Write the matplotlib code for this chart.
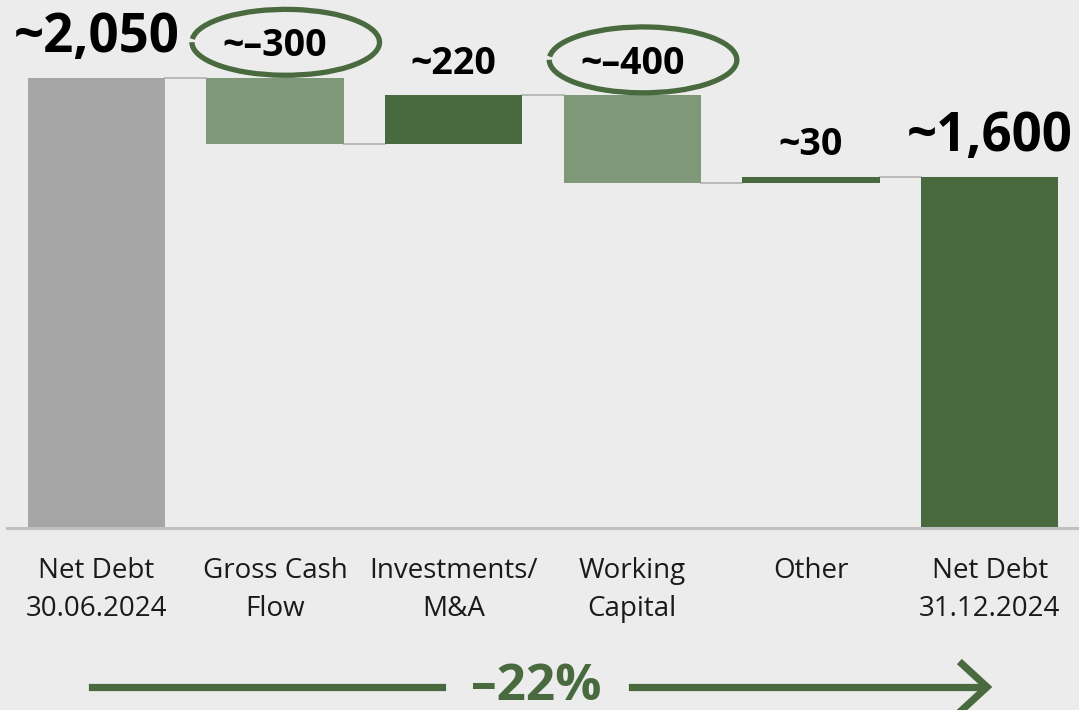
import matplotlib.pyplot as plt
from matplotlib.patches import Arc
from matplotlib.lines import Line2D

plt.rcParams['font.family'] = ['Open Sans', 'DejaVu Sans']

categories = ['Net Debt\n30.06.2024', 'Gross Cash\nFlow', 'Investments/\nM&A',
              'Working\nCapital', 'Other', 'Net Debt\n31.12.2024']
values = [2050, -300, 220, -400, 30, 1600]
is_total = [True, False, False, False, False, True]
value_labels = ['~2,050', '~–300', '~220', '~–400', '~30', '~1,600']
circled = [False, True, False, True, False, False]
change_label = '–22%'

bg = '#ececec'
gray = '#a6a6a6'
light_green = '#7f9877'
dark_green = '#486a3e'

fig = plt.figure(figsize=(10.79, 7.10), dpi=100, facecolor=bg)
ax = fig.add_axes([7 / 1079, 182 / 710, 1072 / 1079, 527 / 710])
ax.set_facecolor(bg)

width = 0.767
running = 0
tops = []
levels = []
for i, v in enumerate(values):
    if is_total[i]:
        bottom, height = 0, v
        color = gray if i == 0 else dark_green
        running = v
    else:
        if v < 0:
            bottom, height = running + v, -v
            color = light_green
        else:
            bottom, height = running, v
            color = dark_green
        running += v
    ax.bar(i, height, bottom=bottom, width=width, color=color, zorder=2)
    tops.append(bottom + height)
    levels.append(running)

# connectors
for i in range(len(values) - 1):
    ax.plot([i + width / 2, i + 1 - width / 2], [levels[i], levels[i]],
            color='#b5b5b5', lw=1.3, zorder=1)

# value labels
for i, lab in enumerate(value_labels):
    big = is_total[i]
    off = 18.5 if big else 15.5
    ax.annotate(lab, (i, tops[i]), xytext=(0, off), textcoords='offset points',
                ha='center', va='baseline', fontsize=38 if big else 27,
                fontweight='bold', color='black', zorder=4)
    if circled[i]:
        # hand-drawn style loop around the label
        y0 = tops[i] + (off * 100 / 72 + 14) / 0.2195
        arc = Arc((i + 0.06, y0), 1.05, 300, angle=0, theta1=132, theta2=452,
                  color=dark_green, lw=3.8, zorder=3, clip_on=False)
        ax.add_patch(arc)

ax.set_xlim(-0.5, 5.5)
ax.set_ylim(0, 2400)
ax.set_xticks(range(len(categories)))
ax.set_xticklabels(categories, fontsize=20, color='#1a1a1a', linespacing=1.45)
ax.tick_params(axis='x', length=0, pad=21)
ax.set_yticks([])
for s in ['top', 'left', 'right']:
    ax.spines[s].set_visible(False)
ax.spines['bottom'].set_color('#c0c0c0')
ax.spines['bottom'].set_linewidth(2.2)

# bottom arrow with change label
def px(x, y):
    return x / 1079, 1 - y / 710

tf = fig.transFigure
(x1, y1), (x2, _) = px(92, 687), px(442, 687)
fig.add_artist(Line2D([x1, x2], [y1, y1], color=dark_green, lw=5.2, transform=tf))
(x3, _), (x4, _) = px(632, 687), px(984, 687)
fig.add_artist(Line2D([x3, x4], [y1, y1], color=dark_green, lw=5.2, transform=tf))
ha1, hb1 = px(962, 664)
tip = px(987, 687)
ha2, hb2 = px(962, 710)
fig.add_artist(Line2D([ha1, tip[0], ha2], [hb1, tip[1], hb2], color=dark_green,
                      lw=5.2, transform=tf, solid_joinstyle='miter'))
tx, ty = px(536, 700)
fig.text(tx, ty, change_label, ha='center', va='baseline', fontsize=37,
         fontweight='bold', color=dark_green)

fig.savefig('out.png', dpi=100, facecolor=bg)
